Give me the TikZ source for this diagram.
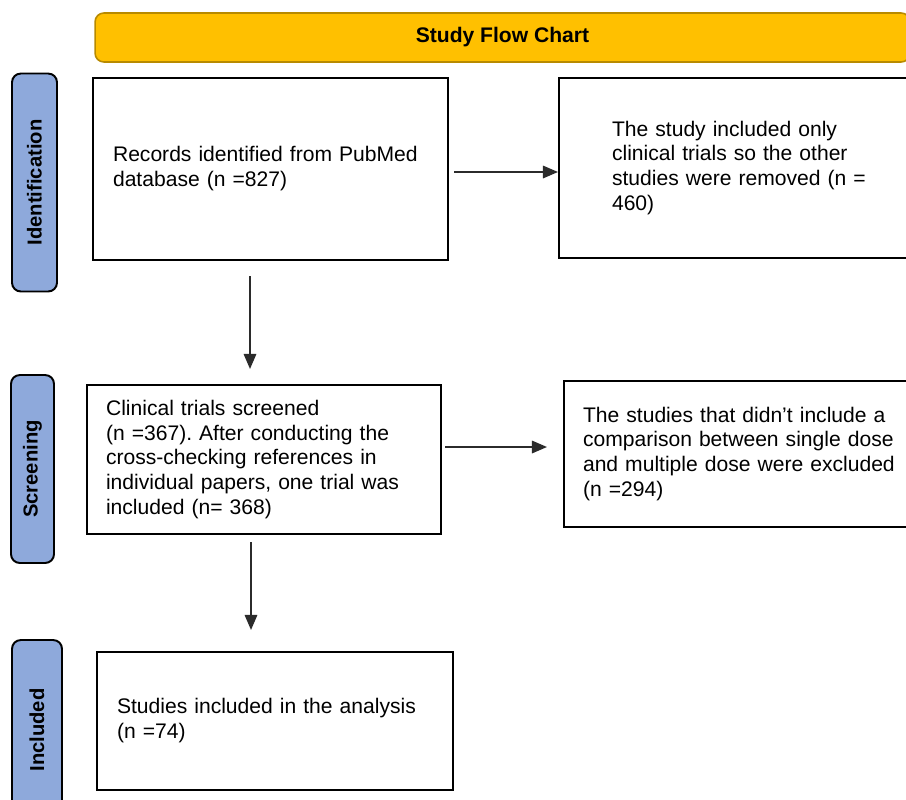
\documentclass[tikz,border=0pt]{standalone}
\usepackage{fontspec}
\setmainfont{Liberation Sans}
\usepackage{xcolor}
\usetikzlibrary{arrows.meta,positioning,calc}
\frenchspacing
\definecolor{sfTitle}{HTML}{FFC000}
\definecolor{sfTitleLine}{HTML}{B88A00}
\definecolor{sfPhase}{HTML}{8EA9DB}
\definecolor{sfInk}{HTML}{000000}
\definecolor{sfArrow}{HTML}{2B2B2B}
\tikzset{
  titlebar/.style={rectangle,rounded corners=5pt,
    minimum width=16.3cm,minimum height=0.98cm,
    align=center,draw=sfTitleLine,line width=0.9pt,fill=sfTitle,
    font=\fontsize{12}{14}\selectfont\bfseries,text=sfInk},
  phasebar/.style={rectangle,rounded corners=5pt,rotate=90,
    align=center,draw=sfInk,line width=1.1pt,fill=sfPhase,
    font=\fontsize{11.5}{14}\selectfont\bfseries,text=sfInk},
  stagebox/.style={rectangle,inner xsep=0.4cm,inner ysep=0pt,
    align=left,draw=sfInk,line width=1.2pt,fill=white,
    font=\fontsize{12}{14.2}\selectfont,text=sfInk},
  arr/.style={-{Triangle[length=0.3cm,width=0.25cm]},line width=0.9pt,color=sfArrow},
}
\begin{document}
\begin{tikzpicture}[x=0.02cm,y=-0.02cm]
  \useasboundingbox (0,0) rectangle (906,799);
  \clip (0,0) rectangle (906,799);

  % header
  \node[titlebar] (title) at (502.5,37.5) {Study Flow Chart};

  % phase labels
  \node[phasebar,minimum width=4.36cm,minimum height=0.9cm] (ident) at (34.5,182.5) {Identification};
  \node[phasebar,minimum width=3.76cm,minimum height=0.86cm] (screen) at (32.5,469) {Screening};
  \node[phasebar,minimum width=3.6cm,minimum height=1.0cm] (incl) at (37,730) {Included};

  % boxes
  \node[stagebox,text width=6.3cm,minimum height=3.64cm] (recs) at (270.5,169)
    {Records identified from PubMed\\database (n =827)};
  \node[stagebox,text width=5.5cm,inner xsep=1.06cm,minimum height=3.6cm] (removed) at (749.5,168)
    {The study included only\\clinical trials so the other\\studies were removed (n =\\460)};
  \node[stagebox,text width=6.32cm,inner xsep=0.38cm,minimum height=2.98cm] (screened) at (264,459.5)
    {Clinical trials screened\\(n =367). After conducting the\\cross-checking references in\\individual papers, one trial was\\included (n= 368)};
  \node[stagebox,text width=6.4cm,inner xsep=0.38cm,minimum height=2.92cm] (excluded) at (743,454)
    {The studies that didn’t include a\\comparison between single dose\\and multiple dose were excluded\\(n =294)};
  \node[stagebox,text width=6.32cm,minimum height=2.76cm] (included) at (275,721)
    {Studies included in the analysis\\(n =74)};

  % arrows
  \draw[arr] ([xshift=0.1cm,yshift=-0.06cm]recs.east) -- ([yshift=-0.06cm]recs.east -| removed.west);
  \draw[arr] ([xshift=-0.41cm,yshift=-0.3cm]recs.south) -- ([xshift=-0.28cm,yshift=0.3cm]screened.north);
  \draw[arr] ([xshift=0.06cm,yshift=0.25cm]screened.east) -- ([xshift=-0.32cm,yshift=0.14cm]excluded.west);
  \draw[arr] ([xshift=-0.26cm,yshift=-0.14cm]screened.south) -- ([xshift=-0.48cm,yshift=0.42cm]included.north);
\end{tikzpicture}
\end{document}
